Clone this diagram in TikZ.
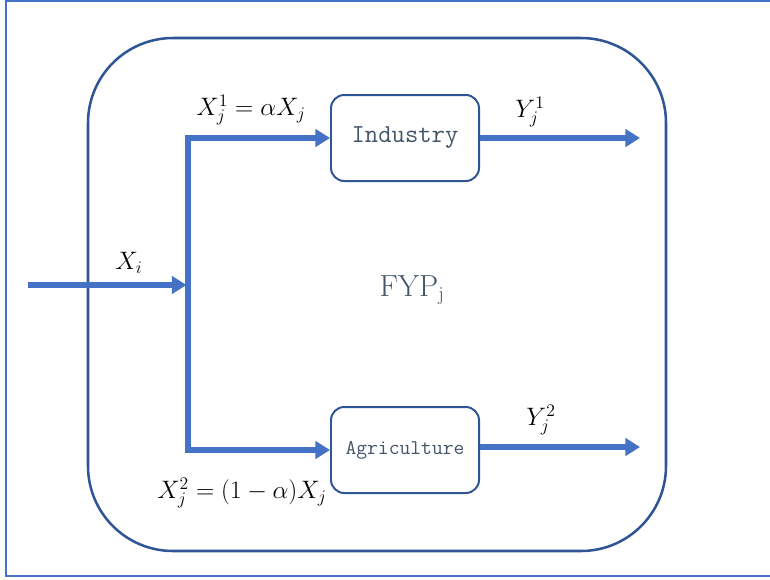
\RequirePackage{fix-cm}
\documentclass[tikz,border=0pt]{standalone}
\usepackage{fontspec}
\usepackage{tikz}
\usetikzlibrary{positioning}
\usetikzlibrary{calc}
\usetikzlibrary{arrows.meta}
\usepackage{amsmath}
\definecolor{flow}{RGB}{68,114,196}
\definecolor{edge}{RGB}{47,85,151}
\definecolor{slate}{RGB}{68,84,106}

\begin{document}
\begin{tikzpicture}[x=0.02646cm, y=-0.02646cm,
  sector/.style={draw=edge, line width=1.5pt, rounded corners=10pt,
                 minimum width=148*0.02646cm, minimum height=86*0.02646cm,
                 text=slate, inner sep=0pt},
  flowline/.style={draw=flow, line width=3.8pt, line join=miter},
  flowarrow/.style={flowline, -{Triangle[length=11pt,width=13pt]}},
  mathlbl/.style={font=\fontsize{19}{22}\selectfont, inner sep=0pt}]

\useasboundingbox (0,0) rectangle (770,579);

%---------------------------------------
% Frame and firm boundary
%---------------------------------------
\draw[flow, line width=1.5pt] (780,1) -- (6,1) -- (6,576) -- (780,576);
\draw[edge, line width=1.9pt, rounded corners=64pt] (88,38) rectangle (666,551);

\node[text=slate, font=\fontsize{23}{27}\selectfont] (fyp) at (412,290)
  {FYP\textsubscript{\fontsize{15}{17}\selectfont j}};

%====================================================
% Sectors
%====================================================
\node[sector, font=\ttfamily\fontsize{19.5}{22}\selectfont] (industry) at (405,138) {Industry};
\node[sector, font=\ttfamily\fontsize{15.8}{18}\selectfont] (agri) at (405,450) {Agriculture};

%====================================================
% Flows
%====================================================
\coordinate (source) at (28,285);
\coordinate (fork) at (188,285);
\coordinate (ind out) at (640,138);
\coordinate (agri out) at (640,447);

% input X_i
\draw[flowarrow] (source) -- ($(fork)+(-1.5,0)$);

% split into the two sectors
\draw[flowarrow] (fork |- agri.west) -- (fork |- industry.west) -- (industry.west);
\draw[flowarrow] (fork |- industry.west) -- (fork |- agri.west) -- (agri.west);

% outputs
\draw[flowarrow] (industry.east) -- (ind out);
\draw[flowarrow] (agri.east |- agri out) -- (agri out);

% ---- Labels ----
\node[mathlbl] (xi) at (129,263) {$X_i$};
\node[mathlbl] (x1) at (251,110) {$X_j^1 = \alpha X_j$};
\node[mathlbl] (x2) at (242,493) {$X_j^2 = (1-\alpha) X_j$};
\node[mathlbl] (y1) at (530,112) {$Y_j^1$};
\node[mathlbl] (y2) at (541,420) {$Y_j^2$};

\end{tikzpicture}
\end{document}
